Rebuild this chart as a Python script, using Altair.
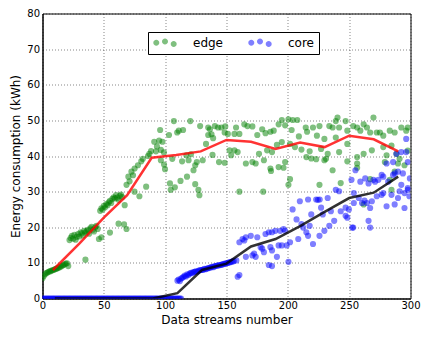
import altair as alt
import pandas as pd

# ---------------- data ----------------
edge_points = [
    (0, 5.7), (1, 6.3), (2, 6.8), (3, 7.1), (4, 7.3), (5, 7.5), (6, 7.6), (7, 7.8), (8, 7.9), (9, 8.0),
    (10, 8.2), (11, 8.3), (12, 8.5), (13, 8.6), (14, 8.8), (15, 9.0), (16, 9.2), (17, 9.4), (18, 9.6),
    (19, 9.8), (20, 9.9), (21, 9.1),
    (22, 16.4), (23, 17.0), (24, 17.6), (25, 16.8), (26, 17.9), (27, 16.5), (28, 17.3), (29, 18.1),
    (30, 17.4), (31, 18.6), (32, 18.3), (33, 17.7), (34, 19.0), (35, 18.5), (36, 18.9), (37, 19.3),
    (38, 18.2), (39, 19.7), (40, 20.1), (41, 19.3), (42, 18.8), (43, 20.0), (44, 20.4), (45, 19.5),
    (46, 16.7), (48, 17.2), (35, 10.9),
    (47, 24.6), (48, 25.3), (49, 25.0), (50, 26.0), (51, 25.6), (52, 26.5), (53, 26.2), (54, 27.0),
    (55, 27.4), (56, 26.8), (57, 28.0), (58, 28.4), (59, 28.1), (60, 29.0), (61, 28.3), (62, 27.7),
    (63, 28.8), (64, 29.2), (65, 28.5), (55, 18.5), (62, 21.0), (66.5, 20.8), (68.5, 19.5), (67, 26.2),
    (68.5, 31.9), (70, 34.2), (71, 32.9), (72.5, 35.6), (73.8, 34.6), (75, 30.0), (75.1, 36.5),
    (77.8, 37.4), (79, 28.7), (80.5, 38.5), (81.8, 39.2), (84.5, 31.4), (86, 40.0), (87.1, 40.6),
    (88.5, 41.4), (91.1, 44.0), (92.5, 41.3), (93.3, 42.7), (95.1, 44.3), (95.9, 47.3), (96.5, 38.8),
    (96.5, 41.7), (97.8, 44.0), (99, 41.0), (99.1, 37.6), (99.9, 36.3), (103.1, 45.9), (103.9, 32.3),
    (104.5, 30.5), (105.8, 39.2), (107.1, 49.8), (107.9, 31.2), (109.8, 46.6), (111.1, 47.1),
    (112.5, 33.0), (113.8, 38.5), (114.6, 47.3), (117.3, 40.2), (117.8, 34.2), (119.1, 38.8),
    (120.5, 49.8), (121, 40.5), (123.1, 36.0), (124.5, 37.4), (124.5, 32.1), (125.8, 38.3),
    (127.1, 30.5), (127.9, 29.0), (128.5, 48.4), (130.6, 38.8), (133.3, 43.4), (135.1, 48.0),
    (135.1, 45.9), (136.5, 47.5), (137.8, 46.1), (138.6, 40.3), (139.1, 45.0), (140.5, 48.4),
    (143.1, 48.0), (143.9, 38.3), (145.8, 48.0), (148.5, 46.6), (148.5, 38.1), (149, 48.3),
    (151.1, 46.2), (152.5, 41.6), (153.8, 40.2), (156.5, 46.2), (156.5, 41.6), (157.8, 48.0),
    (159.1, 41.1), (160.5, 46.2), (160.5, 30.0), (164.5, 48.9), (165.8, 37.9), (167.1, 48.4),
    (171.1, 48.3), (171.1, 38.3), (173.8, 37.9), (175.1, 45.9), (176.5, 40.6), (179.1, 47.5),
    (179.9, 30.0), (180.5, 38.8), (181.8, 46.4), (183.1, 41.6), (185.8, 46.8), (185.8, 36.5),
    (186.3, 35.8), (187.1, 41.1), (188.5, 47.1), (191.1, 43.1), (192.5, 48.9), (192.5, 36.9),
    (195.1, 50.1), (195.1, 43.9), (196.5, 36.7), (197.8, 48.6), (197.8, 38.3), (200.5, 50.3),
    (200.5, 31.9), (201.8, 43.4), (201.8, 33.5), (203.1, 47.3), (204, 50.1), (205.8, 42.5),
    (207.7, 50.1), (209, 45.5), (211.1, 41.8), (214.6, 48.0), (215.1, 39.7), (215.7, 46.8),
    (217.8, 41.3), (219.1, 39.3), (220.5, 48.0), (223.1, 39.1), (223.7, 45.7), (225.8, 48.4),
    (225.8, 31.9), (227.1, 42.0), (229.8, 44.8), (229.8, 38.8), (231.1, 39.2), (232.5, 40.6),
    (233.8, 48.4), (236.5, 48.0), (236.5, 36.0), (239.1, 49.8), (239.1, 45.2), (240.5, 50.8),
    (241.8, 48.0), (241.8, 41.1), (243.1, 32.4), (247.1, 49.8), (248.5, 47.1), (248.5, 43.4),
    (248.5, 38.5), (253.3, 48.4), (256.5, 48.0), (256.5, 39.7), (256.5, 37.9), (256.5, 36.7),
    (259.1, 47.1), (261.8, 48.9), (261.8, 40.6), (261.8, 26.4), (264.5, 48.0), (267.1, 46.6),
    (267.1, 33.5), (268.5, 41.6), (269.8, 50.8), (272.5, 46.6), (275.1, 46.6), (277.8, 45.7),
    (277.8, 42.5), (279.1, 38.3), (280.5, 40.2), (283.1, 47.1), (283.1, 33.3), (284.5, 42.9),
    (284.5, 30.5), (287.1, 46.6), (287.1, 35.6), (288.5, 40.6), (289.8, 37.9), (291.1, 39.2),
    (292.5, 48.0), (295.1, 37.4), (296.5, 47.1), (297.8, 48.0), (297.8, 41.5),
]

core_zero_x = list(range(0, 114))

core_points = [
    (110, 5.0), (111, 5.3), (112, 4.9), (113, 5.6), (114, 5.8), (115, 6.1), (116, 6.4), (117, 6.2),
    (118, 6.8), (119, 6.6), (120, 7.0), (121, 7.2), (122, 7.1), (123, 7.4), (124, 7.5), (125, 7.6),
    (126, 7.5), (127, 7.8), (128, 7.9), (129, 8.0), (130, 8.0), (131, 8.1), (132, 8.3), (133, 8.2),
    (134, 8.4), (135, 8.5), (136, 8.6), (137, 8.7), (138, 8.9), (139, 8.8), (140, 9.0), (141, 9.1),
    (142, 9.2), (143, 9.3), (144, 9.3), (145, 9.4), (146, 9.5), (147, 9.6), (148, 9.7), (149, 9.8),
    (150, 9.9), (151, 10.0), (152, 10.1), (153, 10.2), (154, 10.3), (155, 10.4), (156, 10.5),
    (158, 10.7),
    (159.1, 6.1), (160.5, 6.6), (160.5, 15.8), (163.1, 16.7), (164.5, 16.3), (165.8, 17.2),
    (165.8, 11.7), (169.8, 17.6), (171.1, 12.1), (172.5, 12.6), (173.8, 11.7), (175.1, 17.2),
    (177.8, 14.4), (179.1, 14.0), (180.5, 13.0), (181.8, 18.1), (184.5, 18.6), (184.5, 9.4),
    (185.8, 14.4), (187.1, 18.6), (187.1, 13.5), (187.1, 9.1), (189.8, 19.0), (191.1, 11.7),
    (192.5, 14.9), (193.8, 19.0), (195.1, 14.9), (196.5, 19.5), (197.8, 19.0), (199.1, 14.9),
    (200.5, 10.3), (201.8, 15.8), (203.9, 25.0), (207.1, 22.2), (208.5, 16.7), (209.8, 27.3),
    (211.1, 20.9), (212.5, 19.9), (215.1, 18.6), (216.5, 17.6), (216.5, 27.8), (217.8, 20.4),
    (219.1, 23.6), (220.5, 15.3), (223.1, 27.8), (224.5, 27.7), (225.8, 17.6), (226, 27.8),
    (227.1, 25.5), (228.5, 23.6), (229.8, 19.0), (232.5, 28.2), (233.8, 20.4), (235.1, 24.5),
    (237.8, 21.8), (239.1, 30.5), (241.8, 30.1), (243.1, 24.5), (247.1, 23.2), (247.1, 25.5),
    (248.5, 22.7), (249.8, 25.0), (251.9, 33.3), (252.5, 19.9), (253.3, 19.9), (253.8, 29.6),
    (253.8, 26.8), (255.1, 36.0), (257.8, 28.2), (259.1, 32.8), (260.5, 26.8), (262.5, 27.5),
    (263.1, 33.7), (264.5, 26.8), (265.8, 21.8), (265.8, 32.3), (267.1, 19.9), (267.1, 25.4),
    (268.5, 27.3), (269.8, 33.3), (271.1, 32.8), (272.5, 28.7), (273.8, 33.3), (276.5, 34.7),
    (276.5, 29.1), (277.8, 29.6), (277.8, 34.2), (280.5, 37.9), (280.5, 25.9), (281.8, 32.8),
    (284.5, 29.1), (285.8, 34.7), (285.8, 38.3), (287.1, 26.4), (287.1, 35.1), (288.5, 40.6),
    (289.8, 35.6), (289.8, 28.2), (291.1, 30.1), (292.5, 31.9), (292.5, 41.1), (293.8, 35.1),
    (295.1, 25.4), (295.1, 29.6), (296.5, 41.1), (296.5, 44.8), (297.8, 31.0), (297.8, 38.3),
    (297.8, 30.5), (299.1, 28.7), (299.5, 33.7),
]

edge_avg_x = [8.5, 30, 50, 69, 89, 109, 129, 150, 170, 190, 210, 230, 250, 270, 290]
edge_avg_y = [8.0, 15.4, 22.7, 29.0, 39.5, 40.3, 41.3, 44.5, 44.0, 42.0, 43.8, 42.5, 45.7, 44.7, 41.3]
core_avg_x = [10, 30, 50, 70, 90, 110, 130, 150, 170, 190, 210, 230, 250, 270, 290]
core_avg_y = [0, 0, 0, 0, 0, 1.5, 8.0, 9.8, 14.6, 16.7, 20.3, 24.3, 28.2, 29.7, 34.2]

x_ticks = [0, 50, 100, 150, 200, 250, 300]
y_ticks = [0, 10, 20, 30, 40, 50, 60, 70, 80]
series_names = ["edge", "core"]
series_colors = ["#008000", "#0000ff"]

# ---------------- tables ----------------
rows = [{"series": "edge", "x": x, "y": y} for x, y in edge_points]
rows += [{"series": "core", "x": x, "y": 0.0} for x in core_zero_x]
rows += [{"series": "core", "x": x, "y": y} for x, y in core_points]
pts = pd.DataFrame(rows)
edge_avg = pd.DataFrame({"x": edge_avg_x, "y": edge_avg_y})
core_avg = pd.DataFrame({"x": core_avg_x, "y": core_avg_y})


def circ(cx, cy, r):
    return (f"M{cx - r},{cy}A{r},{r} 0 1,1 {cx + r},{cy}"
            f"A{r},{r} 0 1,1 {cx - r},{cy}Z")


three_dots = circ(-1.45, -0.05, 0.5) + circ(0, -0.25, 0.5) + circ(1.45, 0.15, 0.5)

FONT = "DejaVu Sans"
xscale = alt.Scale(domain=[0, 300], nice=False, zero=False)
yscale = alt.Scale(domain=[0, 80], nice=False)


def xaxis():
    return alt.Axis(values=x_ticks, title="Data streams number", grid=True, ticks=False,
                    labelPadding=2, format="d", labelOverlap=False, labelFlush=False,
                    titleBaseline="alphabetic", titleY=24.5)


def yaxis():
    return alt.Axis(values=y_ticks, title="Energy consumption (kWh)", grid=True, ticks=False,
                    labelPadding=3, titlePadding=4, format="d", labelOverlap=False,
                    labelFlush=False)


points = alt.Chart(pts).mark_circle(size=38, opacity=0.5, clip=True).encode(
    x=alt.X("x:Q", scale=xscale, axis=xaxis()),
    y=alt.Y("y:Q", scale=yscale, axis=yaxis()),
    color=alt.Color(
        "series:N",
        scale=alt.Scale(domain=series_names, range=series_colors),
        sort=series_names,
        legend=alt.Legend(
            title=None, orient="none", legendX=105.5, legendY=18.5, direction="horizontal",
            symbolType=three_dots, symbolSize=144, symbolOpacity=0.5, symbolStrokeWidth=0,
            symbolOffset=6, labelOffset=22, columnPadding=25, padding=5,
            strokeColor="black", fillColor="white", labelFontSize=12, labelFont=FONT,
            labelColor="black",
        ),
    ),
)

red_line = alt.Chart(edge_avg).mark_line(color="#ff0000", strokeWidth=2.5, opacity=0.8, clip=True).encode(
    x=alt.X("x:Q", scale=xscale, axis=xaxis()), y=alt.Y("y:Q", scale=yscale, axis=yaxis())
)
black_line = alt.Chart(core_avg).mark_line(color="#000000", strokeWidth=2.5, opacity=0.8, clip=True).encode(
    x=alt.X("x:Q", scale=xscale, axis=xaxis()), y=alt.Y("y:Q", scale=yscale, axis=yaxis())
)

# total SVG: 413 x 318 so that the page (8px margins) fits the 429x338 window
chart = alt.layer(points, red_line, black_line).properties(
    width=368, height=285,
    autosize=alt.AutoSizeParams(type="none"),
    padding={"left": 34.5, "top": 5.5, "right": 10.5, "bottom": 27.5},
).configure_view(
    stroke="black", strokeWidth=1
).configure_axis(
    labelFont=FONT, titleFont=FONT, labelFontSize=10, titleFontSize=12,
    titleFontWeight="normal", labelColor="black", titleColor="black",
    domainColor="black", gridColor="black", gridDash=[1, 2], gridOpacity=0.6, gridWidth=0.8,
)

chart.save("out.html", embed_options={"renderer": "svg", "actions": False})
